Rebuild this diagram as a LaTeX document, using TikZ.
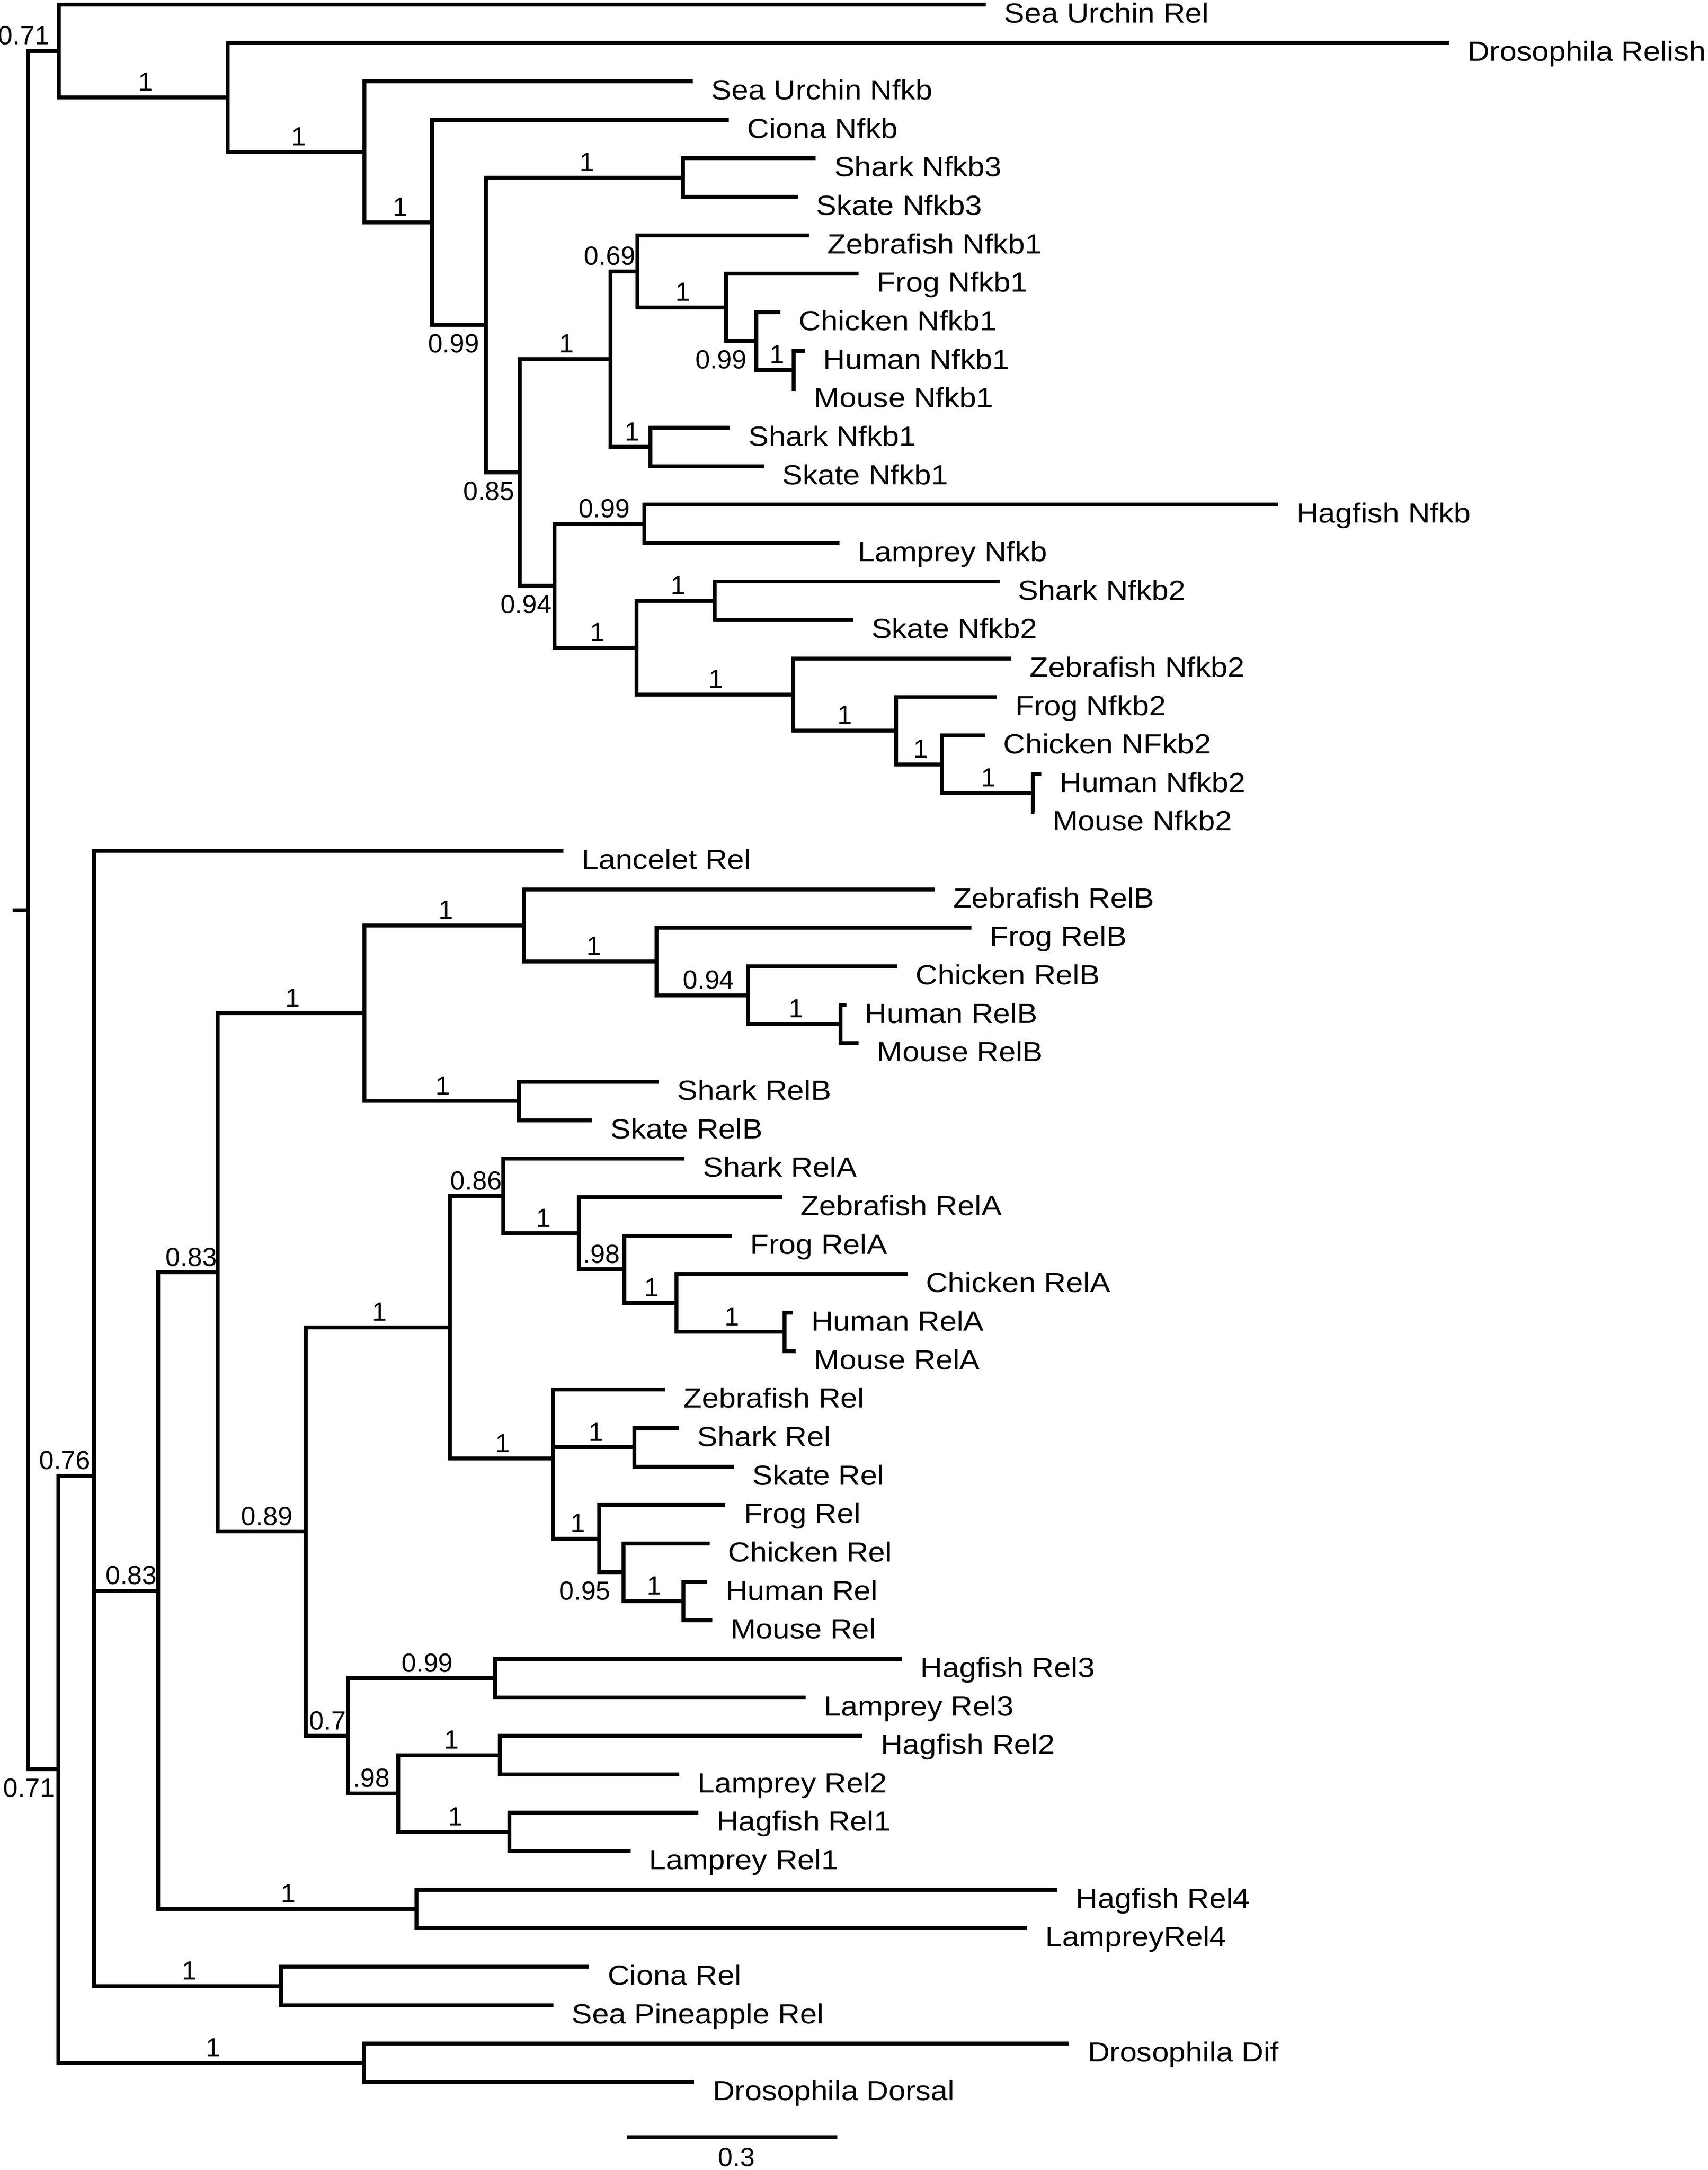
\documentclass[tikz,border=0pt]{standalone}
\usepackage{fontspec}
\setmainfont{Liberation Sans}
\newfontfamily\leaffont{Liberation Sans}[FakeStretch=1.1]
\tikzset{
  br/.style={line width=2.8pt, line join=miter},
  leaf/.style={anchor=base west, inner sep=0pt, xshift=13.2pt, yshift=-13.2pt, font=\leaffont\fontsize{20}{24}\selectfont},
  supa/.style={anchor=base, inner sep=0pt, yshift=4.6pt, font=\fontsize{19}{22}\selectfont},
  supb/.style={anchor=base, inner sep=0pt, yshift=-20pt, font=\fontsize{19}{22}\selectfont},
}
\newcommand\clade[3]{\draw[br] (#2) -| (#1) |- (#3);}
\newcommand\lf[3]{\coordinate (l#1) at (#2,{3.2+27.83*(#1-1)}); \node[leaf] (t#1) at (l#1) {#3};}
\begin{document}
\begin{tikzpicture}[x=1pt,y=-1pt]
\fill[white] (0,0) rectangle (1235,1569.6);
\useasboundingbox (0,0) rectangle (1235,1569.6);
% leaves
\lf{1}{713}{Sea Urchin Rel}
\lf{2}{1048}{Drosophila Relish}
\lf{3}{501}{Sea Urchin Nfkb}
\lf{4}{527}{Ciona Nfkb}
\lf{5}{590}{Shark Nfkb3}
\lf{6}{577}{Skate Nfkb3}
\lf{7}{585}{Zebrafish Nfkb1}
\lf{8}{621}{Frog Nfkb1}
\lf{9}{564.5}{Chicken Nfkb1}
\lf{10}{582}{Human Nfkb1}
\lf{11}{575.4}{Mouse Nfkb1}
\lf{12}{528}{Shark Nfkb1}
\lf{13}{552.5}{Skate Nfkb1}
\lf{14}{924.3}{Hagfish Nfkb}
\lf{15}{607}{Lamprey Nfkb}
\lf{16}{723}{Shark Nfkb2}
\lf{17}{617}{Skate Nfkb2}
\lf{18}{731.4}{Zebrafish Nfkb2}
\lf{19}{721}{Frog Nfkb2}
\lf{20}{712.3}{Chicken NFkb2}
\lf{21}{753}{Human Nfkb2}
\lf{22}{748}{Mouse Nfkb2}
\lf{23}{407.5}{Lancelet Rel}
\lf{24}{676}{Zebrafish RelB}
\lf{25}{702.5}{Frog RelB}
\lf{26}{648.8}{Chicken RelB}
\lf{27}{612.2}{Human RelB}
\lf{28}{621}{Mouse RelB}
\lf{29}{476.6}{Shark RelB}
\lf{30}{428.2}{Skate RelB}
\lf{31}{495.1}{Shark RelA}
\lf{32}{565.6}{Zebrafish RelA}
\lf{33}{529.3}{Frog RelA}
\lf{34}{656.3}{Chicken RelA}
\lf{35}{573.4}{Human RelA}
\lf{36}{575.5}{Mouse RelA}
\lf{37}{480.9}{Zebrafish Rel}
\lf{38}{490.9}{Shark Rel}
\lf{39}{530.7}{Skate Rel}
\lf{40}{524.7}{Frog Rel}
\lf{41}{513.3}{Chicken Rel}
\lf{42}{511.5}{Human Rel}
\lf{43}{515.1}{Mouse Rel}
\lf{44}{652.4}{Hagfish Rel3}
\lf{45}{582.7}{Lamprey Rel3}
\lf{46}{623.6}{Hagfish Rel2}
\lf{47}{491.2}{Lamprey Rel2}
\lf{48}{505}{Hagfish Rel1}
\lf{49}{456}{Lamprey Rel1}
\lf{50}{764.7}{Hagfish Rel4}
\lf{51}{742.8}{LampreyRel4}
\lf{52}{426.1}{Ciona Rel}
\lf{53}{400.2}{Sea Pineapple Rel}
\lf{54}{773.3}{Drosophila Dif}
\lf{55}{502.1}{Drosophila Dorsal}
% internal nodes
\coordinate (A) at (42.5,36.8);
\coordinate (B) at (164.7,70.45);
\coordinate (C) at (263.6,109.9);
\coordinate (D) at (312.5,160.9);
\coordinate (E) at (351.3,235.1);
\coordinate (N3) at (494,128.45);
\coordinate (S) at (376,341.75);
\coordinate (F) at (441.5,259.8);
\coordinate (H) at (461,196.3);
\coordinate (G) at (525,222.35);
\coordinate (I) at (547,246.7);
\coordinate (J) at (574,267.6);
\coordinate (N1) at (470.5,323.25);
\coordinate (K) at (401.1,423.7);
\coordinate (L) at (466,378.9);
\coordinate (M) at (460.4,468.5);
\coordinate (N) at (517,434.6);
\coordinate (O) at (573.7,502.4);
\coordinate (P) at (648,528.5);
\coordinate (Q) at (681.2,552.85);
\coordinate (R) at (747,573.7);
\coordinate (root) at (20.4,658.3);
\coordinate (stub) at (9,658.3);
\coordinate (BB) at (42.1,1279.8);
\coordinate (T) at (67.9,1067.5);
\coordinate (U) at (114.5,1150.6);
\coordinate (W) at (157.3,920.35);
\coordinate (Y) at (263.5,732.9);
\coordinate (RB1) at (378.9,669.4);
\coordinate (RB2) at (474.9,695.5);
\coordinate (RB3) at (540.9,719.85);
\coordinate (RB4) at (607.8,740.7);
\coordinate (SRB) at (375.3,796.4);
\coordinate (Z) at (221.2,1107.8);
\coordinate (AA) at (325.5,960.05);
\coordinate (RA1) at (363.9,865.1);
\coordinate (RA2) at (418.7,892.1);
\coordinate (RA3) at (451.7,918.15);
\coordinate (RA4) at (489.1,942.5);
\coordinate (RA5) at (567.4,963.35);
\coordinate (R1) at (400.2,1055.0);
\coordinate (R2) at (458.9,1046.85);
\coordinate (R3) at (433.3,1112.95);
\coordinate (R4) at (451,1137.3);
\coordinate (R5) at (494.4,1158.2);
\coordinate (AB) at (251.6,1255.6);
\coordinate (AC) at (358.1,1213.85);
\coordinate (AD) at (287.9,1297.3);
\coordinate (AE) at (361.6,1269.5);
\coordinate (AF) at (368.5,1325.15);
\coordinate (X) at (301.1,1380.8);
\coordinate (V) at (203.3,1436.5);
\coordinate (DD) at (263.1,1492.15);
% branches
\draw[br] (stub) -- (root);
\clade{root}{A}{BB}
\clade{A}{l1}{B}
\clade{B}{l2}{C}
\clade{C}{l3}{D}
\clade{D}{l4}{E}
\clade{E}{N3}{S}
\clade{N3}{l5}{l6}
\clade{S}{F}{K}
\clade{F}{H}{N1}
\clade{H}{l7}{G}
\clade{G}{l8}{I}
\clade{I}{l9}{J}
\clade{J}{l10}{l11}
\clade{N1}{l12}{l13}
\clade{K}{L}{M}
\clade{L}{l14}{l15}
\clade{M}{N}{O}
\clade{N}{l16}{l17}
\clade{O}{l18}{P}
\clade{P}{l19}{Q}
\clade{Q}{l20}{R}
\clade{R}{l21}{l22}
\clade{BB}{T}{DD}
\clade{T}{l23}{V}
\draw[br] (U) -- (U -| T);
\clade{U}{W}{X}
\clade{W}{Y}{Z}
\clade{Y}{RB1}{SRB}
\clade{RB1}{l24}{RB2}
\clade{RB2}{l25}{RB3}
\clade{RB3}{l26}{RB4}
\clade{RB4}{l27}{l28}
\clade{SRB}{l29}{l30}
\clade{Z}{AA}{AB}
\clade{AA}{RA1}{R1}
\clade{RA1}{l31}{RA2}
\clade{RA2}{l32}{RA3}
\clade{RA3}{l33}{RA4}
\clade{RA4}{l34}{RA5}
\clade{RA5}{l35}{l36}
\clade{R1}{l37}{R3}
\draw[br] (R2) -- (R2 -| R1);
\clade{R2}{l38}{l39}
\clade{R3}{l40}{R4}
\clade{R4}{l41}{R5}
\clade{R5}{l42}{l43}
\clade{AB}{AC}{AD}
\clade{AC}{l44}{l45}
\clade{AD}{AE}{AF}
\clade{AE}{l46}{l47}
\clade{AF}{l48}{l49}
\clade{X}{l50}{l51}
\clade{V}{l52}{l53}
\clade{DD}{l54}{l55}
% support values
\node[supa] (s1) at (17.2,36.8) {0.71};
\node[supa] (s2) at (105.2,70.45) {1};
\node[supa] (s3) at (216,109.9) {1};
\node[supa] (s4) at (289.6,160.9) {1};
\node[supa] (s5) at (424.5,128.45) {1};
\node[supa] (s6) at (441,196.3) {0.69};
\node[supa] (s7) at (494,222.35) {1};
\node[supa] (s8) at (562,267.6) {1};
\node[supa] (s9) at (457.3,323.25) {1};
\node[supa] (s10) at (409.9,259.8) {1};
\node[supa] (s11) at (437,378.9) {0.99};
\node[supa] (s12) at (432.2,468.5) {1};
\node[supa] (s13) at (490.3,434.6) {1};
\node[supa] (s14) at (517.7,502.4) {1};
\node[supa] (s15) at (611,528.5) {1};
\node[supa] (s16) at (665.8,552.85) {1};
\node[supa] (s17) at (714.8,573.7) {1};
\node[supa] (s18) at (46.9,1067.5) {0.76};
\node[supa] (s19) at (94.9,1150.6) {0.83};
\node[supa] (s20) at (138.4,920.35) {0.83};
\node[supa] (s21) at (193,1107.8) {0.89};
\node[supa] (s22) at (211.6,732.9) {1};
\node[supa] (s23) at (322.5,669.4) {1};
\node[supa] (s24) at (429.5,695.5) {1};
\node[supa] (s25) at (512.5,719.85) {0.94};
\node[supa] (s26) at (575.7,740.7) {1};
\node[supa] (s27) at (320.3,796.4) {1};
\node[supa] (s28) at (274.6,960.05) {1};
\node[supa] (s29) at (344.3,865.1) {0.86};
\node[supa] (s30) at (393,892.1) {1};
\node[supa] (s31) at (435,918.15) {.98};
\node[supa] (s32) at (471.3,942.5) {1};
\node[supa] (s33) at (529.3,963.35) {1};
\node[supa] (s34) at (363.5,1055) {1};
\node[supa] (s35) at (431.1,1046.85) {1};
\node[supa] (s36) at (418,1112.95) {1};
\node[supa] (s37) at (473.1,1158.2) {1};
\node[supa] (s38) at (237,1255.6) {0.7};
\node[supa] (s39) at (309.1,1213.85) {0.99};
\node[supa] (s40) at (268.6,1297.3) {.98};
\node[supa] (s41) at (326.5,1269.5) {1};
\node[supa] (s42) at (329.4,1325.15) {1};
\node[supa] (s43) at (208.4,1380.8) {1};
\node[supa] (s44) at (137,1436.5) {1};
\node[supa] (s45) at (154.3,1492.15) {1};
\node[supb] (s46) at (328.1,235.1) {0.99};
\node[supb] (s47) at (353.6,341.75) {0.85};
\node[supb] (s48) at (521.5,246.7) {0.99};
\node[supb] (s49) at (380.5,423.7) {0.94};
\node[supb] (s50) at (423,1137.3) {0.95};
\node[supb] (s51) at (21,1279.8) {0.71};
% scale bar
\coordinate (sb1) at (453.2,1545.9);
\coordinate (sb2) at (605.7,1545.9);
\draw[br] (sb1) -- (sb2);
\node[anchor=base, inner sep=0pt, font=\fontsize{19}{22}\selectfont] (sbl) at (532.6,1567) {0.3};
\end{tikzpicture}
\end{document}
